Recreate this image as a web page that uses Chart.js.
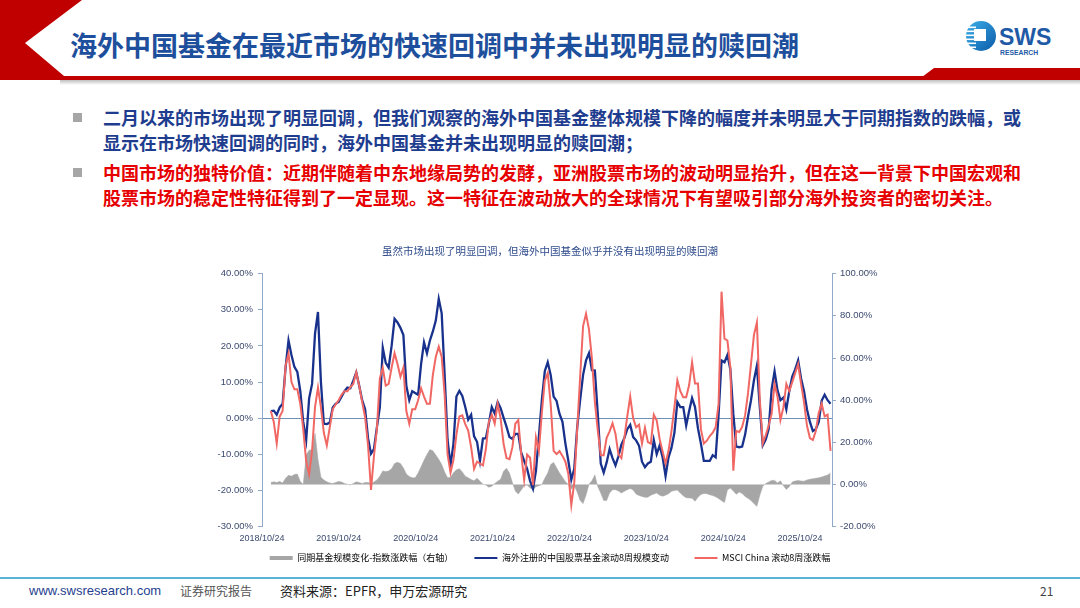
<!DOCTYPE html>
<html><head><meta charset="utf-8">
<script src="https://cdn.jsdelivr.net/npm/chart.js@4.4.1/dist/chart.umd.min.js"></script>
<style>
html,body{margin:0;padding:0;background:#fff;}
body{width:1080px;height:608px;position:relative;overflow:hidden;font-family:"Noto Sans CJK SC","Noto Sans",sans-serif;}
.abs{position:absolute;white-space:nowrap;}
#title{left:70px;top:26px;font-size:27px;line-height:37px;font-weight:700;color:#1d4f9c;letter-spacing:0px;}
.bul{left:73px;width:9px;height:9px;background:#a6a6a6;}
.txt{left:103px;font-size:18px;line-height:25px;font-weight:700;}
.blue{color:#1f3d8f;}
.red{color:#e60000;}
#chartBox{position:absolute;left:200px;top:245px;width:700px;height:327.4px;}
.foot{top:582px;line-height:18px;}
</style></head>
<body>
<svg class="abs" style="left:0;top:0" width="1080" height="608">
  <defs>
    <linearGradient id="shadow" x1="0" y1="0" x2="0" y2="1">
      <stop offset="0" stop-color="#bfbfbf"/><stop offset="1" stop-color="#ffffff"/>
    </linearGradient>
    <linearGradient id="logoG" x1="0" y1="0" x2="1" y2="1">
      <stop offset="0" stop-color="#3db0ea"/><stop offset="1" stop-color="#0b5aa8"/>
    </linearGradient>
  </defs>
  <polygon points="0,0 82,0 25,43 64,76 1080,76 1080,80 0,80" fill="#c00000"/>
  <polygon points="918,80 934,68 1080,68 1080,80" fill="#c00000"/>
  <rect x="60" y="80" width="1020" height="5" fill="url(#shadow)"/>
  <!-- logo -->
  <circle cx="981" cy="36" r="15" fill="url(#logoG)"/>
  <rect x="962" y="26.5" width="14" height="1.6" fill="#ffffff"/>
  <rect x="962" y="30.5" width="14" height="1.6" fill="#ffffff"/>
  <rect x="962" y="34.5" width="14" height="1.6" fill="#ffffff"/>
  <rect x="962" y="38.5" width="14" height="1.6" fill="#ffffff"/>
  <rect x="962" y="42.5" width="14" height="1.6" fill="#ffffff"/>
  <rect x="962" y="46.5" width="14" height="1.6" fill="#ffffff"/>
  <rect x="974" y="29" width="12" height="12" fill="#ffffff"/>
  <text x="999" y="45" font-family="Liberation Sans, Arial, sans-serif" font-weight="700" font-size="23" fill="#1f5aa6">SWS</text>
  <text x="1000" y="54.5" font-family="Liberation Sans, Arial, sans-serif" font-weight="700" font-size="6.8" fill="#1f5aa6">RESEARCH</text>
  <rect x="0" y="577" width="1080" height="2" fill="#5ab4da"/>
</svg>

<div id="title" class="abs">海外中国基金在最近市场的快速回调中并未出现明显的赎回潮</div>

<div class="abs bul" style="top:113px"></div>
<div class="abs txt blue" style="top:105px">二月以来的市场出现了明显回调，但我们观察的海外中国基金整体规模下降的幅度并未明显大于同期指数的跌幅，或<br>显示在市场快速回调的同时，海外中国基金并未出现明显的赎回潮；</div>
<div class="abs bul" style="top:168px"></div>
<div class="abs txt red" style="top:160px">中国市场的独特价值：近期伴随着中东地缘局势的发酵，亚洲股票市场的波动明显抬升，但在这一背景下中国宏观和<br>股票市场的稳定性特征得到了一定显现。这一特征在波动放大的全球情况下有望吸引部分海外投资者的密切关注。</div>

<div id="chartBox"><canvas id="c"></canvas></div>

<div class="abs foot" style="left:29px;font-family:'Liberation Sans',sans-serif;font-size:13px;color:#1f3f8f;">www.swsresearch.com</div>
<div class="abs foot" style="left:180px;font-size:12px;color:#555;">证券研究报告</div>
<div class="abs foot" style="left:280px;font-size:13px;color:#222;">资料来源：EPFR，申万宏源研究</div>
<div class="abs foot" style="left:1040px;font-size:12px;color:#444;">21</div>

<script>
// ---- data ----
const chartTitle = '虽然市场出现了明显回调，但海外中国基金似乎并没有出现明显的赎回潮';
const seriesNames = ['同期基金规模变化-指数涨跌幅（右轴）', '海外注册的中国股票基金滚动8周规模变动', 'MSCI China 滚动8周涨跌幅'];
const xTickLabels = ['2018/10/24','2019/10/24','2020/10/24','2021/10/24','2022/10/24','2023/10/24','2024/10/24','2025/10/24'];
const axisStartDate = '2018/10/24';
const axisEndDate = '2026/03/25';
const firstObsDate = '2018/12/05';
const obsStepDays = 14;

// 同期基金规模变化-指数涨跌幅（右轴）, %
const spreadRight = [1.0, 1.3, 1.0, 1.5, 0.8, 3.0, 4.4, 4.0, 4.8, 5.0,
 1.5, 0.0, 14.0, 16.3, 16.5, 24.3, 12.0, 3.5, 2.2, 1.3,
 0.8, 0.5, 1.0, 1.5, 1.2, 0.5, 0.2, -0.2, 0.5, 1.3,
 1.0, 0.5, 1.0, 1.0, 0.5, 1.2, 2.2, 4.0, 6.5, 6.2,
 6.5, 7.5, 10.0, 10.6, 10.0, 7.9, 5.0, 3.8, 3.2, 3.2,
 5.5, 8.5, 11.5, 14.3, 16.6, 16.0, 14.0, 12.0, 9.5, 6.0,
 3.2, 3.5, 5.6, 7.0, 7.5, 6.0, 4.0, 3.2, 2.4, 1.8,
 3.0, 1.6, 0.2, -0.2, -1.2, -0.8, 0.5, 1.6, 2.5, 6.3,
 7.8, 5.5, 1.0, -3.0, -4.5, -2.5, -0.5, -0.2, -1.6, -2.3,
 -1.0, -0.5, 0.0, 3.0, 5.5, 9.5, 10.5, 8.0, 5.5, 3.5,
 1.4, 0.0, -2.2, -0.5, -3.5, -7.5, -9.0, -5.0, 0.2, 1.8,
 4.6, -1.0, -4.0, -7.5, -7.5, -4.0, -2.4, -2.4, -3.0, -4.0,
 -3.2, -2.4, -1.8, -2.6, -4.5, -5.2, -5.6, -6.0, -6.0, -5.0,
 -4.5, -4.0, -5.0, -5.5, -5.0, -4.3, -3.2, -2.8, -2.6, -4.0,
 -5.3, -6.2, -6.3, -6.5, -7.9, -6.0, -4.7, -4.2, -4.3, -4.8,
 -5.2, -5.8, -6.6, -7.6, -8.5, -2.5, -1.6, -3.0, -4.6, -3.5,
 -4.2, -5.6, -6.5, -7.5, -9.0, -10.3, -5.0, -0.8, 0.5, 1.2,
 2.0, 2.0, 0.8, 1.8, -0.6, -2.3, -1.0, 1.2, 1.7, 1.9,
 1.7, 1.6, 2.2, 2.5, 2.8, 3.0, 3.2, 3.6, 4.1, 4.5,
 5.5];

// 海外注册的中国股票基金滚动8周规模变动, %
const fundFlow = [2.0, 2.1, 1.0, 3.0, 4.0, 14.0, 21.5, 17.5, 14.2, 12.8,
 7.5, -1.0, -6.0, 5.5, 9.5, 23.4, 29.4, 10.0, -1.5, -1.6,
 -1.2, 3.0, 4.0, 4.5, 6.0, 7.5, 8.5, 8.3, 10.4, 12.7,
 9.0, 5.0, 2.5, -5.5, -9.8, -8.5, -2.5, 3.0, 19.5, 15.3,
 14.0, 20.0, 27.5, 26.5, 25.0, 23.0, 9.0, 5.0, 7.5, 7.0,
 6.5, 15.0, 21.0, 18.0, 21.5, 24.0, 27.0, 33.0, 29.0, 12.0,
 -6.0, -13.0, -7.0, 6.0, 7.6, 6.2, 3.1, -0.4, 1.0, -5.0,
 -6.5, -11.8, -5.6, -5.5, -1.5, 3.1, 1.3, 4.5, 2.8, 0.2,
 -2.3, -5.2, -5.7, -4.3, -4.3, -9.5, -11.8, -14.0, -17.3, -19.5,
 -14.5, -5.0, 5.0, 13.0, 15.5, 12.0, 6.0, 4.8, 1.2, -1.0,
 -7.0, -11.8, -17.0, -14.0, -2.5, 5.0, 12.0, 16.0, 18.0, 13.3,
 13.2, 1.0, -12.5, -15.0, -12.2, -8.5, -11.0, -13.0, -10.5, -7.3,
 -5.5, -3.0, -1.8, -5.2, -6.1, -7.6, -12.0, -13.5, -12.5, -12.0,
 -6.0, -9.9, -7.5, -10.8, -16.0, -10.8, -8.2, -4.0, 4.5, 3.1,
 3.1, -2.0, 2.0, 5.6, 3.1, -2.8, -7.0, -11.8, -11.8, -11.8,
 -10.2, -10.8, 1.0, 16.0, 15.5, 17.5, 13.5, 1.2, -7.8, -8.0,
 -7.8, -4.5, 0.5, 5.0, 10.5, 14.5, 3.0, -7.5, -5.9, -3.0,
 8.0, 13.0, 7.7, 5.0, 5.7, 2.5, 7.5, 11.5, 13.5, 16.0,
 11.0, 7.5, 2.5, -1.0, -3.5, -3.0, -1.0, 4.9, 6.5, 5.0,
 4.0];

// MSCI China 滚动8周涨跌幅, %
const msciChina = [2.0, -1.0, -7.0, 0.5, 2.0, 14.5, 17.9, 10.0, 8.0, 8.0,
 4.0, -3.0, -12.0, -15.5, -9.0, 3.1, 8.5, 3.0, -4.0, -7.5,
 -2.5, 2.5, 3.8, 5.0, 6.5, 7.5, 7.5, 8.6, 9.5, 12.7,
 9.0, 4.5, 0.3, -7.5, -19.8, -10.5, -3.0, 11.0, 14.0, 9.0,
 9.5, 14.0, 18.0, 15.0, 11.5, 14.0, 2.0, -1.5, 2.5, 2.5,
 5.0, 8.3, 6.0, 4.0, 4.0, 12.0, 17.0, 19.8, 17.0, 6.5,
 -10.0, -15.0, -11.5, -4.5, 0.5, 0.8, -1.6, -3.4, -8.0, -14.0,
 -12.0, -12.5, -13.0, -8.5, -1.0, 1.0, -1.5, 4.0, 0.0, -7.0,
 -11.0, -11.3, -8.0, -1.5, -0.5, -10.0, -17.0, -10.0, -10.9, -18.5,
 -5.3, -9.0, 1.5, 10.4, 12.5, 4.0, -9.0, -9.9, -9.1, -10.4,
 -12.0, -15.4, -24.0, -17.8, -3.0, 11.5, 25.5, 28.9, 24.6, 16.5,
 4.5, -3.5, -10.2, -10.2, -5.4, -3.6, -1.4, -4.3, -10.0, -11.0,
 -5.5, 0.5, 6.0, 0.0, -2.5, -1.8, -7.0, -2.6, -6.6, -7.0,
 1.0, -0.6, -5.8, -9.2, -12.5, -9.0, -3.6, 3.0, 10.5, 7.5,
 5.8, 5.8, 9.2, 15.5, 9.6, 9.6, -3.0, -7.0, -6.2, -4.9,
 -4.0, -2.5, 4.0, 35.0, 22.0, 21.5, 14.0, -14.5, -3.5, -3.8,
 -2.4, 0.8, 7.0, 15.0, 23.0, 26.5, 5.0, -7.0, -4.7, -2.0,
 1.2, 9.5, 6.0, -0.5, 3.0, 9.5, 7.5, 10.0, 12.5, 15.0,
 9.5, 4.5, -2.0, -5.5, -6.0, -3.5, 1.5, 4.0, 0.5, 1.0,
 -9.0];

// ---- helpers ----
function dayOf(s){ const p = s.split('/').map(Number); return Date.UTC(p[0], p[1]-1, p[2]) / 864e5; }
const day0 = dayOf(axisStartDate);
const firstDay = dayOf(firstObsDate) - day0;
const toPoints = arr => arr.map((v, i) => ({x: firstDay + i * obsStepDays, y: v}));
const tickDays = xTickLabels.map(s => dayOf(s) - day0);

const NUM_FONT = "'Liberation Sans','Noto Sans CJK SC',sans-serif";
const CJK_FONT = "'Noto Sans CJK SC','Liberation Sans',sans-serif";
const AXIS_COLOR = '#8fa9c8';
const LABEL_COLOR = '#3c4a6e';
const LEGEND_GAP = '\u3000\u3000';

new Chart(document.getElementById('c'), {
  type: 'line',
  data: {
    datasets: [
      { label: seriesNames[0], data: toPoints(spreadRight), yAxisID: 'y1', fill: 'origin',
        backgroundColor: '#a6a6a6', borderColor: '#a6a6a6', borderWidth: 0.5, pointRadius: 0, order: 3,
        legendColor: '#a6a6a6', legendWidth: 4 },
      { label: seriesNames[1], data: toPoints(fundFlow), yAxisID: 'y', fill: false,
        borderColor: '#18318c', borderWidth: 2.3, pointRadius: 0, order: 2,
        legendColor: '#18318c', legendWidth: 2 },
      { label: seriesNames[2], data: toPoints(msciChina), yAxisID: 'y', fill: false,
        borderColor: '#f06763', borderWidth: 2.0, pointRadius: 0, order: 1,
        legendColor: '#f06763', legendWidth: 2 }
    ]
  },
  options: {
    responsive: true, maintainAspectRatio: false, animation: false,
    layout: { padding: { left: 0, right: 0, top: 0, bottom: 0 } },
    plugins: {
      tooltip: { enabled: false },
      title: { display: true, text: chartTitle, color: '#2f4b8c',
        font: { family: CJK_FONT, size: 10.5, weight: 'normal' }, padding: { top: 0, bottom: 16 } },
      legend: {
        position: 'bottom',
        labels: {
          usePointStyle: true, pointStyleWidth: 23, boxHeight: 8, padding: 7.6,
          color: '#2b3f7a', font: { family: CJK_FONT, size: 9 },
          generateLabels: (chart) => chart.data.datasets.map((ds, i, all) => ({
            text: ds.label + (i < all.length - 1 ? LEGEND_GAP : ''),
            fillStyle: ds.legendColor, strokeStyle: ds.legendColor,
            lineWidth: ds.legendWidth, pointStyle: 'line', hidden: false, datasetIndex: i
          }))
        }
      }
    },
    scales: {
      x: {
        type: 'linear', min: 0, max: dayOf(axisEndDate) - day0,
        afterFit: (scale) => { scale.height = 19; },
        grid: { display: false, drawTicks: false, tickLength: 0 }, border: { display: false },
        afterBuildTicks: (scale) => { scale.ticks = tickDays.map(v => ({ value: v })); },
        ticks: { autoSkip: false, maxRotation: 0, padding: 6.5, color: LABEL_COLOR,
          font: { family: NUM_FONT, size: 9 },
          callback: (v) => { const i = tickDays.indexOf(v); return i >= 0 ? xTickLabels[i] : ''; } }
      },
      y: {
        position: 'left', min: -30, max: 40,
        afterFit: (scale) => { scale.width = 62; },
        grid: { drawOnChartArea: true, color: (ctx) => (ctx.tick && ctx.tick.value === 0) ? '#6f8fb5' : 'rgba(0,0,0,0)',
          tickColor: AXIS_COLOR, tickLength: 4, lineWidth: 1 },
        border: { display: true, color: AXIS_COLOR, width: 1 },
        ticks: { stepSize: 10, padding: 5, color: LABEL_COLOR, font: { family: NUM_FONT, size: 9.5 },
          callback: (v) => v.toFixed(2) + '%' }
      },
      y1: {
        position: 'right', min: -20, max: 100,
        afterFit: (scale) => { scale.width = 68; },
        grid: { drawOnChartArea: false, tickColor: AXIS_COLOR, tickLength: 4 },
        border: { display: true, color: AXIS_COLOR, width: 1 },
        ticks: { stepSize: 20, padding: 4, color: LABEL_COLOR, font: { family: NUM_FONT, size: 9.5 },
          callback: (v) => v.toFixed(2) + '%' }
      }
    }
  }
});
</script>
</body></html>
